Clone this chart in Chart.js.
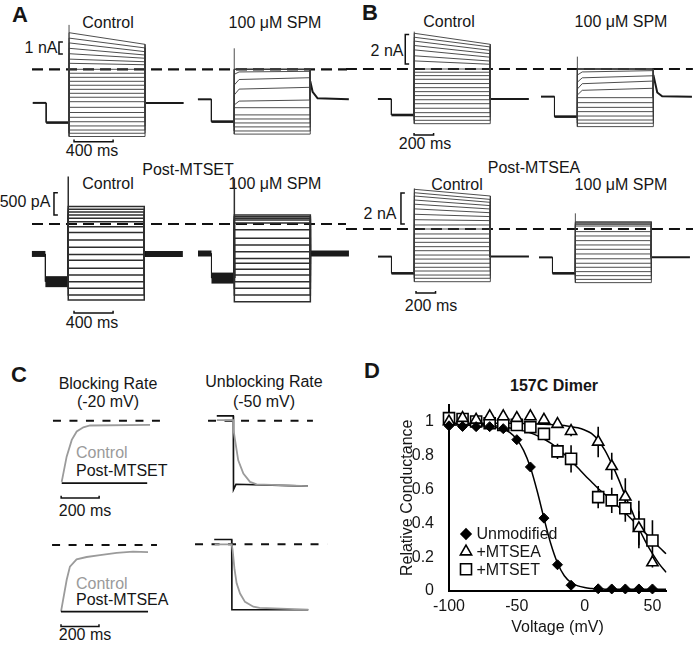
<!DOCTYPE html>
<html lang="en">
<head>
<meta charset="UTF-8">
<title>Spermine block of the 157C dimer</title>
<script src="https://cdn.jsdelivr.net/npm/chart.js"></script>
<style>
  body { margin: 0; background: #fff; }
  #fig { position: relative; width: 693px; height: 645px; overflow: hidden;
         font-family: Arial, "Liberation Sans", sans-serif; color: #161616; }
  #fig canvas { position: absolute; }
  .t { position: absolute; font-size: 16px; line-height: 1; white-space: nowrap; transform: translate(-50%, -50%); }
  .l { transform: translate(0, -50%); }
  .p { font-size: 22px; font-weight: bold; }
  .g { color: #9a9a9a; }
</style>
</head>
<body>
<div id="fig">
  <div class="t p" style="left:20px;top:15px">A</div>
  <div class="t" style="left:108px;top:23px">Control</div>
  <div class="t" style="left:275px;top:23px">100 μM SPM</div>
  <div class="t" style="left:41px;top:48px">1 nA</div>
  <div class="t" style="left:92px;top:151px">400 ms</div>
  <div class="t" style="left:188px;top:170px">Post-MTSET</div>
  <div class="t" style="left:108px;top:184px">Control</div>
  <div class="t" style="left:275px;top:184px">100 μM SPM</div>
  <div class="t" style="left:25px;top:202px">500 pA</div>
  <div class="t" style="left:92px;top:323px">400 ms</div>

  <div class="t p" style="left:370px;top:13px">B</div>
  <div class="t" style="left:449px;top:22px">Control</div>
  <div class="t" style="left:621px;top:22px">100 μM SPM</div>
  <div class="t" style="left:387px;top:51px">2 nA</div>
  <div class="t" style="left:425px;top:144px">200 ms</div>
  <div class="t" style="left:534px;top:168px">Post-MTSEA</div>
  <div class="t" style="left:457px;top:185px">Control</div>
  <div class="t" style="left:621px;top:185px">100 μM SPM</div>
  <div class="t" style="left:380px;top:214px">2 nA</div>
  <div class="t" style="left:431px;top:306px">200 ms</div>

  <div class="t p" style="left:19px;top:375px">C</div>
  <div class="t" style="left:108px;top:384px">Blocking Rate</div>
  <div class="t" style="left:108px;top:402px">(-20 mV)</div>
  <div class="t l g" style="left:76px;top:453px">Control</div>
  <div class="t l" style="left:76px;top:471px">Post-MTSET</div>
  <div class="t" style="left:85px;top:511px">200 ms</div>
  <div class="t l g" style="left:76px;top:584px">Control</div>
  <div class="t l" style="left:76px;top:600px">Post-MTSEA</div>
  <div class="t" style="left:85px;top:635px">200 ms</div>
  <div class="t" style="left:264px;top:382px">Unblocking Rate</div>
  <div class="t" style="left:264px;top:402px">(-50 mV)</div>

  <div class="t p" style="left:372px;top:371px">D</div>
  <div class="t" style="left:554px;top:386px;font-weight:bold">157C Dimer</div>
</div>

<script>
// ---------- A / B : step families (time in ms, current in nA) ----------
const stepTimes = [0, 138, 372, 1150, 1545];   // hold, prepulse, test on, test off, sweep end
const relaxMs = 50;                             // sample time of the "mid" values after test onset

// A, control
const aCtrlEnd = [2.08, 1.78, 1.47, 1.19, 0.92, 0.63, 0.38, 0, -0.33, -0.67, -1.0, -1.33,
                  -1.67, -2.0, -2.33, -2.7, -3.17, -3.6, -4.0, -4.37, -4.72, -5.06, -5.33, -5.6];
const aCtrlStart = [3.05, 2.6, 2.2, 1.75, 1.3, 0.85, 0.5];
const aCtrlBase = [-2.8, -4.44, 3.7];           // holding, prepulse, capacitive peak
// A, 100 uM SPM
const aSpmEnd = [0, 0, 0, 0, -0.17, -0.7, -1.5, -2.56, -3.2, -3.8, -4.14, -4.47, -4.8, -5.14, -5.4];
const aSpmStart = [0, 0, 0, 0, -0.42, -1.31, -2.14, -2.97];
const aSpmMid = [0, 0, 0, 0, -0.22, -0.85, -1.65, -2.65];
const aSpmBase = [-2.5, -4.36, 1.75];
const aSpmTail = [-1.0, -1.87, -2.42];
const aSpmTailMs = [0, 24, 75];

// A, post-MTSET control / SPM
const mCtrlEnd = [0.39, 0.33, 0.27, 0.2, 0.13, 0.05, -0.06, -0.19, -0.36, -0.52, -0.68, -0.81,
                  -0.99, -1.14, -1.29, -1.44, -1.59, -1.7];
const mCtrlBase = [-0.67, -1.29, 1.06];
const mSpmEnd = [0.2, 0.16, 0.13, 0.09, 0.02, -0.13, -0.32, -0.47, -0.62, -0.77, -0.88, -1.01,
                 -1.14, -1.29, -1.44, -1.59, -1.74];
const mSpmBase = [-0.66, -1.21, 1.02];

// B, control
const bCtrlEnd = [1.68, 1.5, 1.27, 1.04, 0.8, 0.54, 0.32, 0, -0.22, -0.45, -0.7, -0.99, -1.27,
                  -1.54, -1.81, -2.09, -2.36, -2.67, -2.97, -3.24, -3.49, -3.72];
const bCtrlStart = [2.43, 2.16, 1.9, 1.6, 1.3, 0.9, 0.55];
const bCtrlBase = [-2.04, -3.13, 2.54];
// B, 100 uM SPM
const bSpmEnd = [0, 0, 0, 0, -0.11, -0.46, -0.82, -1.31, -1.95, -2.29, -2.61, -2.9, -3.2, -3.47, -3.69, -3.92];
const bSpmStart = [0, 0, 0, 0, -0.41, -0.9, -1.36, -1.77];
const bSpmMid = [0, 0, 0, 0, -0.2, -0.6, -1.0, -1.45];
const bSpmBase = [-1.88, -3.24, 0.84];
const bSpmTail = [-0.4, -1.6, -1.85];
const bSpmTailMs = [0, 40, 90];

// B, post-MTSEA control / SPM
const eCtrlEnd = [2.13, 1.91, 1.72, 1.51, 1.29, 1.05, 0.8, 0.54, 0.26, 0, -0.32, -0.6, -0.86, -1.14,
                  -1.4, -1.68, -1.94, -2.21, -2.47, -2.71, -2.97, -3.18, -3.4];
const eCtrlStart = [2.56, 2.34, 2.13, 1.87, 1.6, 1.3, 0.95, 0.6];
const eCtrlBase = [-1.78, -2.86, 2.62];
const eSpmEnd = [0.47, 0.41, 0.34, 0.28, 0.19, -0.17, -0.45, -0.75, -1.03, -1.31, -1.61, -1.92,
                 -2.21, -2.47, -2.75, -3.01, -3.25, -3.46];
const eSpmBase = [-1.83, -2.86, 1.01];

// ---------- C : normalised currents (0 = dashed line) ----------
const blkTimeA = [0, 26, 53, 79, 114, 149, 465];
const blkCtrlA = [-1.02, -0.6, -0.32, -0.18, -0.11, -0.08, -0.07];
const blkModTimeA = [0, 450];
const blkModA = [-1.04, -1.04];
const blkTimeB = [0, 30, 47, 82, 135, 205, 293, 379, 458];
const blkCtrlB = [-1.11, -0.58, -0.36, -0.24, -0.2, -0.17, -0.13, -0.11, -0.12];
const blkModTimeB = [0, 458];
const blkModB = [-1.11, -1.11];

const unbTimeA = [-87, 0, 1, 9, 26, 53, 88, 123, 393];
const unbCtrlA = [0.01, 0.01, -0.15, -0.32, -0.66, -0.88, -1.02, -1.06, -1.09];
const unbModTimeA = [-87, 0, 1, 14, 393];
const unbModA = [0.08, 0.08, -1.15, -1.06, -1.09];
const unbTimeB = [-90, 0, 5, 15, 26, 44, 70, 114, 147, 403];
const unbCtrlB = [0, 0, -0.1, -0.42, -0.65, -0.82, -0.96, -1.04, -1.06, -1.09];
const unbModTimeB = [-92, 0, 1, 403];
const unbModB = [0.08, 0.08, -1.09, -1.09];

// ---------- D : relative conductance ----------
const voltages = [-100, -90, -80, -70, -60, -50, -40, -30, -20, -10, 10, 20, 30, 40, 50];
const unmod = [0.975, 0.971, 0.97, 0.97, 0.958, 0.893, 0.732, 0.43, 0.155, 0.034, 0.013, 0.012, 0.012, 0.012, 0.012];
const unmodErr = [0.01, 0.01, 0.01, 0.01, 0.01, 0.01, 0.01, 0.01, 0.01, 0.01, 0.005, 0.005, 0.005, 0.005, 0.005];
const mtsea = [1.0, 1.02, 1.01, 1.03, 1.03, 1.02, 1.03, 1.01, 0.985, 0.943, 0.88, 0.736, 0.556, 0.37, 0.168];
const mtseaErr = [0.08, 0.02, 0.02, 0.02, 0.02, 0.02, 0.02, 0.02, 0.02, 0.03, 0.09, 0.08, 0.11, 0.1, 0.03];
const mtset = [1.02, 1.015, 1.0, 0.99, 0.98, 0.98, 0.967, 0.927, 0.824, 0.78, 0.554, 0.535, 0.488, 0.392, 0.298];
const mtsetErr = [0.02, 0.02, 0.02, 0.02, 0.02, 0.02, 0.02, 0.03, 0.045, 0.08, 0.065, 0.075, 0.08, 0.14, 0.12];

const fitVolt = [-100, -90, -80, -70, -60, -55, -50, -45, -40, -35, -30, -25, -20, -15, -10, -5, 0,
                 5, 10, 15, 20, 25, 30, 35, 40, 45, 50, 55, 60];
const unmodFit = [0.98, 0.98, 0.977, 0.97, 0.955, 0.935, 0.895, 0.83, 0.73, 0.59, 0.43, 0.28, 0.165,
                  0.09, 0.05, 0.03, 0.02, 0.015, 0.012, 0.011, 0.01, 0.01, 0.01, 0.01, 0.01, 0.01, 0.01, 0.01, 0.01];
const mtseaFit = [0.99, 0.99, 0.99, 0.99, 0.99, 0.99, 0.989, 0.988, 0.987, 0.985, 0.984, 0.982, 0.98,
                  0.976, 0.97, 0.963, 0.95, 0.93, 0.89, 0.83, 0.75, 0.66, 0.56, 0.47, 0.37, 0.29, 0.22, 0.16, 0.11];
const mtsetFit = [0.99, 0.987, 0.983, 0.978, 0.968, 0.962, 0.955, 0.945, 0.933, 0.917, 0.897, 0.872, 0.842,
                  0.807, 0.768, 0.727, 0.685, 0.645, 0.605, 0.57, 0.535, 0.497, 0.46, 0.42, 0.38, 0.34, 0.298, 0.258, 0.22];

const xTicks = [-100, -50, 0, 50];
const yTicks = [0, 0.2, 0.4, 0.6, 0.8, 1];
const yTickLabels = ['0', '0.2', '0.4', '0.6', '0.8', '1'];

// ---------- drawing ----------
Chart.defaults.font.family = 'Arial, "Liberation Sans", sans-serif';
const fig = document.getElementById('fig');

function line(pts, color, width, dash) {
    return {
        data: pts.map(([x, y]) => ({ x, y })),
        showLine: true, pointRadius: 0, pointHoverRadius: 0,
        borderColor: color, borderWidth: width, borderDash: dash || [],
        tension: 0, fill: false
    };
}

function series(xs, ys) {
    return xs.map((x, i) => [x, ys[i]]);
}

// one canvas whose whole area is the plot; box in page px, px/ms and px/unit give the scale
function traceChart(box, map, datasets) {
    const c = document.createElement('canvas');
    c.width = box.w;
    c.height = box.h;
    c.style.left = box.x + 'px';
    c.style.top = box.y + 'px';
    fig.appendChild(c);
    return new Chart(c, {
        type: 'scatter',
        data: { datasets },
        options: {
            responsive: false, animation: false, events: [],
            layout: { padding: 0 },
            plugins: { legend: { display: false }, tooltip: { enabled: false } },
            scales: {
                x: { type: 'linear', display: false,
                     min: (box.x - map.x0) / map.px, max: (box.x + box.w - map.x0) / map.px },
                y: { type: 'linear', display: false,
                     min: (map.y0 - box.y - box.h) / map.py, max: (map.y0 - box.y) / map.py }
            }
        }
    });
}

function stepFamily(off, fam, st) {
    const [t0, tPre, tOn, tOff, tEnd] = stepTimes.map(t => t + off);
    const [hold, pre, spike] = fam.base;
    const out = [];
    fam.end.forEach((e, i) => {
        const s = fam.start && fam.start[i] !== undefined ? fam.start[i] : e;
        const pts = [[tOn, pre], [tOn, s]];
        if (fam.mid && fam.mid[i] !== undefined) pts.push([tOn + relaxMs, fam.mid[i]]);
        pts.push([tOff, e], [tOff, hold]);
        out.push(line(pts, st.trace, st.traceW));
    });
    out.push(line([[tOn, pre], [tOn, spike]], st.trace, st.traceW));
    out.push(line([[t0, hold], [tPre, hold]], st.base, st.holdW));
    out.push(line([[tPre, hold], [tPre, pre]], st.base, 1));
    out.push(line([[tPre, pre], [tOn, pre]], st.base, st.preW));
    const post = fam.tail ? fam.tail.map((v, k) => [tOff + fam.tailMs[k], v]) : [[tOff, hold]];
    post.push([tEnd, hold]);
    out.push(line(post, st.base, st.holdW));
    return out;
}

function scaleBars(v, h) {
    // v: [t, from, to, tick ms]   h: [from ms, to ms, level, tick]
    return [
        line([[v[0] + v[3], v[2]], [v[0], v[2]], [v[0], v[1]], [v[0] + v[3], v[1]]], '#111', 1.5),
        line([[h[0], h[2] + h[3]], [h[0], h[2]], [h[1], h[2]], [h[1], h[2] + h[3]]], '#111', 1.5)
    ];
}

const pxMs = 0.0977;
const thin = { trace: '#3a3a3a', traceW: 0.9, base: '#1a1a1a', holdW: 2, preW: 2.6 };
const noisy = { trace: '#2e2e2e', traceW: 1.5, base: '#1a1a1a', holdW: 6, preW: 11 };
const zeroDash = [11, 6];

const rows = [
    { box: { x: 28, y: 18, w: 322, h: 130 }, map: { x0: 32.7, px: pxMs, y0: 69.3, py: 12 }, spmX0: 197.9,
      zero: [-7, 3217], vBar: [269, 1.28, 2.28, 40], hBar: [423, 823, -6.03, 0.17], st: thin,
      ctrl: { start: aCtrlStart, end: aCtrlEnd, base: aCtrlBase },
      spm: { start: aSpmStart, mid: aSpmMid, end: aSpmEnd, base: aSpmBase, tail: aSpmTail, tailMs: aSpmTailMs } },
    { box: { x: 28, y: 172, w: 322, h: 148 }, map: { x0: 31.9, px: pxMs, y0: 224, py: 44.7 }, spmX0: 198,
      zero: [1, 3215], vBar: [226, 0.2, 0.7, 40], hBar: [431, 831, -1.99, 0.05], st: noisy,
      ctrl: { end: mCtrlEnd, base: mCtrlBase },
      spm: { end: mSpmEnd, base: mSpmBase } },
    { box: { x: 346, y: 18, w: 347, h: 122 }, map: { x0: 377.9, px: pxMs, y0: 69, py: 14.7 }, spmX0: 541,
      zero: [-327, 3224], vBar: [280, 0.34, 2.34, 40], hBar: [370, 570, -4.49, 0.14], st: thin,
      ctrl: { start: bCtrlStart, end: bCtrlEnd, base: bCtrlBase },
      spm: { start: bSpmStart, mid: bSpmMid, end: bSpmEnd, base: bSpmBase, tail: bSpmTail, tailMs: bSpmTailMs } },
    { box: { x: 346, y: 180, w: 347, h: 118 }, map: { x0: 378, px: pxMs, y0: 229, py: 15.5 }, spmX0: 539,
      zero: [-328, 3224], vBar: [235, 0.32, 2.32, 40], hBar: [389, 589, -4.13, 0.13], st: thin,
      ctrl: { start: eCtrlStart, end: eCtrlEnd, base: eCtrlBase },
      spm: { end: eSpmEnd, base: eSpmBase } }
];

rows.forEach(r => {
    const spmOff = (r.spmX0 - r.map.x0) / r.map.px;
    const ds = [
        ...stepFamily(0, r.ctrl, r.st),
        ...stepFamily(spmOff, r.spm, r.st),
        line([[r.zero[0], 0], [r.zero[1], 0]], '#111', 2.2, zeroDash),
        ...scaleBars(r.vBar, r.hBar)
    ];
    traceChart(r.box, r.map, ds);
});

// C panels
const gray = '#9b9b9b', dark = '#111';
const cPx = 0.19;
traceChart({ x: 48, y: 405, w: 120, h: 100 }, { x0: 61.7, px: cPx, y0: 420.7, py: 60 }, [
    line(series(blkModTimeA, blkModA), dark, 1.6),
    line(series(blkTimeA, blkCtrlA), gray, 1.8),
    line([[-46, 0], [517, 0]], '#111', 2, [8, 8.5]),
    line([[-3, -1.25], [-3, -1.29], [197, -1.29], [197, -1.25]], '#111', 1.5)
]);
traceChart({ x: 48, y: 535, w: 120, h: 100 }, { x0: 61, px: cPx, y0: 545, py: 60 }, [
    line(series(blkModTimeB, blkModB), dark, 1.6),
    line(series(blkTimeB, blkCtrlB), gray, 1.8),
    line([[-47, 0], [505, 0]], '#111', 2, [8, 8.5]),
    line([[0, -1.32], [0, -1.36], [200, -1.36], [200, -1.32]], '#111', 1.5)
]);
traceChart({ x: 190, y: 405, w: 135, h: 90 }, { x0: 233.3, px: cPx, y0: 420.7, py: 60 }, [
    line(series(unbTimeA, unbCtrlA), gray, 1.8),
    line(series(unbModTimeA, unbModA), dark, 1.6),
    line([[-133, 0], [419, 0]], '#111', 2, [8, 8.5])
]);
traceChart({ x: 185, y: 530, w: 150, h: 90 }, { x0: 231.7, px: cPx, y0: 544.3, py: 60 }, [
    line(series(unbTimeB, unbCtrlB), gray, 1.8),
    line(series(unbModTimeB, unbModB), dark, 1.6),
    line([[-193, 0], [502, 0]], '#111', 2, [8, 8.5])
]);

// D panel
function pts(xs, ys) { return xs.map((x, i) => ({ x, y: ys[i] })); }
function errBars(xs, ys, es) {
    const out = [];
    xs.forEach((x, i) => { out.push({ x, y: ys[i] - es[i] }, { x, y: ys[i] + es[i] }, { x, y: null }); });
    return out;
}
function drawMarker(ctx, shape, x, y) {
    ctx.beginPath();
    if (shape === 'diamond') {
        ctx.moveTo(x - 5, y); ctx.lineTo(x, y - 5); ctx.lineTo(x + 5, y); ctx.lineTo(x, y + 5);
    } else if (shape === 'triangle') {
        const r = 6.5;
        ctx.moveTo(x, y - r); ctx.lineTo(x + r * 0.866, y + r / 2); ctx.lineTo(x - r * 0.866, y + r / 2);
    } else {
        ctx.rect(x - 5.5, y - 5.5, 11, 11);
    }
    ctx.closePath();
    ctx.fillStyle = shape === 'diamond' ? '#000' : '#fff';
    ctx.fill();
    ctx.lineWidth = 1.6;
    ctx.strokeStyle = '#000';
    ctx.stroke();
}
const legendInPlot = {
    id: 'legendInPlot',
    afterDatasetsDraw(chart) {
        const ctx = chart.ctx;
        const items = [['diamond', 'Unmodified'], ['triangle', '+MTSEA'], ['square', '+MTSET']];
        ctx.save();
        ctx.font = '16px Arial, "Liberation Sans", sans-serif';
        ctx.textBaseline = 'middle';
        items.forEach(([shape, label], i) => {
            const y = 154 + i * 17.6;
            drawMarker(ctx, shape, 81, y);
            ctx.fillStyle = '#161616';
            ctx.fillText(label, 91.5, y + 1);
        });
        ctx.restore();
    }
};

const dCanvas = document.createElement('canvas');
dCanvas.width = 308;
dCanvas.height = 265;
dCanvas.style.left = '385px';
dCanvas.style.top = '380px';
fig.appendChild(dCanvas);

const axisFont = { size: 16 };
const fitLine = data => ({ data, showLine: true, pointRadius: 0, borderColor: '#000', borderWidth: 1.5,
                           cubicInterpolationMode: 'monotone', order: 5, clip: false });
const errLine = data => ({ data, showLine: true, pointRadius: 0, borderColor: '#000', borderWidth: 1.6,
                           spanGaps: false, order: 6, clip: false });

new Chart(dCanvas, {
    type: 'scatter',
    data: {
        datasets: [
            { data: pts(voltages, unmod), pointStyle: 'rectRot', pointRadius: 5, backgroundColor: '#000',
              borderColor: '#000', borderWidth: 1, order: 0, clip: false },
            { data: pts(voltages, mtsea), pointStyle: 'triangle', pointRadius: 6.5, backgroundColor: '#fff',
              borderColor: '#000', borderWidth: 1.6, order: 1, clip: false },
            { data: pts(voltages, mtset), pointStyle: 'rect', pointRadius: 7.8, backgroundColor: '#fff',
              borderColor: '#000', borderWidth: 1.6, order: 2, clip: false },
            fitLine(pts(fitVolt, unmodFit)),
            fitLine(pts(fitVolt, mtseaFit)),
            fitLine(pts(fitVolt, mtsetFit)),
            errLine(errBars(voltages, unmod, unmodErr)),
            errLine(errBars(voltages, mtsea, mtseaErr)),
            errLine(errBars(voltages, mtset, mtsetErr))
        ]
    },
    options: {
        responsive: false, animation: false, events: [],
        layout: { padding: { top: 19.3, right: 27, left: 0, bottom: 0 } },
        plugins: { legend: { display: false }, tooltip: { enabled: false } },
        scales: {
            x: {
                type: 'linear', min: -100, max: 60,
                afterBuildTicks: s => { s.ticks = xTicks.map(v => ({ value: v })); },
                afterFit: s => { s.height = 54; },
                grid: { display: false, drawTicks: false },
                border: { display: true, color: '#000', width: 2 },
                ticks: { font: axisFont, color: '#161616', padding: 6, maxRotation: 0, autoSkip: false,
                         callback: v => String(v) },
                title: { display: true, text: 'Voltage (mV)', font: axisFont, color: '#161616',
                         padding: { top: 0, bottom: 8 } }
            },
            y: {
                type: 'linear', min: 0, max: 1.1,
                afterBuildTicks: s => { s.ticks = yTicks.map(v => ({ value: v })); },
                afterFit: s => { s.width = 64; },
                grid: { display: false, drawTicks: false },
                border: { display: true, color: '#000', width: 2 },
                ticks: { font: axisFont, color: '#161616', padding: 15, autoSkip: false,
                         callback: v => yTickLabels[yTicks.indexOf(v)] },
                title: { display: true, text: 'Relative Conductance', font: axisFont, color: '#161616',
                         padding: { top: 13, bottom: 0 } }
            }
        }
    },
    plugins: [legendInPlot]
});
</script>
</body>
</html>
